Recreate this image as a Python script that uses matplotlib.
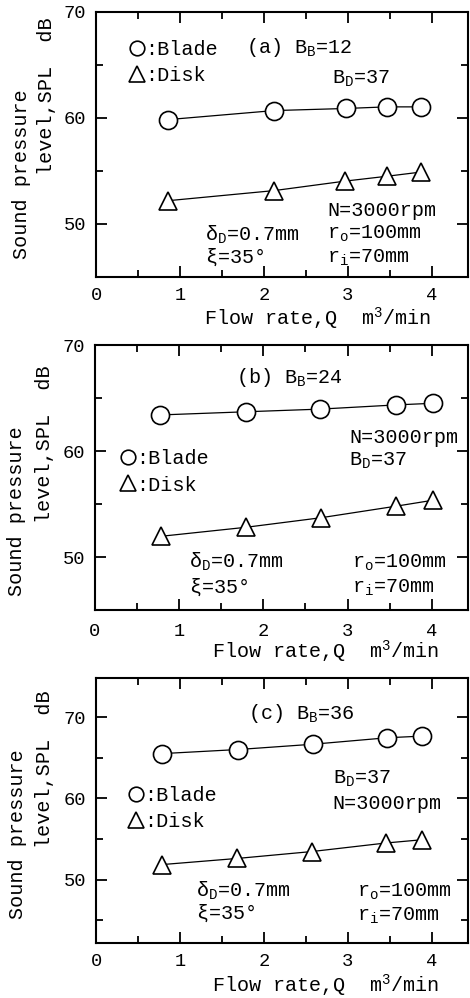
import matplotlib.pyplot as plt
from matplotlib.lines import Line2D
from matplotlib.ticker import MultipleLocator

# flow rate Q (m3/min) and sound pressure level (dB)
q_a_blade = [0.86, 2.12, 2.98, 3.46, 3.87]
spl_a_blade = [59.85, 60.7, 60.9, 61.05, 61.05]
q_a_disk = [0.86, 2.12, 2.97, 3.46, 3.87]
spl_a_disk = [52.2, 53.15, 54.05, 54.5, 54.9]

q_b_blade = [0.77, 1.79, 2.67, 3.58, 4.01]
spl_b_blade = [63.4, 63.7, 63.95, 64.35, 64.5]
q_b_disk = [0.78, 1.79, 2.68, 3.58, 4.01]
spl_b_disk = [51.95, 52.8, 53.7, 54.8, 55.35]

q_c_blade = [0.79, 1.69, 2.58, 3.47, 3.88]
spl_c_blade = [65.5, 66.0, 66.65, 67.45, 67.65]
q_c_disk = [0.79, 1.68, 2.57, 3.45, 3.88]
spl_c_disk = [51.85, 52.6, 53.45, 54.5, 54.9]

x_ticks = [0, 1, 2, 3, 4]
y_ticks = [50, 60, 70]

W, H = 470, 998
FONT = ['Liberation Mono', 'DejaVu Sans Mono', 'DejaVu Sans']
FS = 14.5

plt.rcParams['font.family'] = FONT
plt.rcParams['mathtext.fontset'] = 'custom'
plt.rcParams['mathtext.rm'] = 'Liberation Mono'
plt.rcParams['mathtext.it'] = 'Liberation Mono'
plt.rcParams['mathtext.default'] = 'regular'

fig = plt.figure(figsize=(W / 100, H / 100), dpi=100)


def fx(x):
    return x / W


def fy(y):
    return 1 - y / H


def draw_panel(rect, q_bl, spl_bl, q_dk, spl_dk, ylim, xpad, notes,
               legend_at, ylab1, ylab2, xlab):
    left, top, right, bottom = rect
    ax = fig.add_axes([fx(left), fy(bottom), (right - left) / W, (bottom - top) / H])
    ax.plot(q_bl, spl_bl, color='black', lw=0.9, marker='o', ms=13,
            mfc='white', mec='black', mew=1.2)
    ax.plot(q_dk, spl_dk, color='black', lw=0.9, marker='^', ms=12.5,
            mfc='white', mec='black', mew=1.2)
    ax.set_xlim(0, 4.43)
    ax.set_ylim(*ylim)
    ax.set_xticks(x_ticks)
    ax.set_yticks(y_ticks)
    ax.xaxis.set_minor_locator(MultipleLocator(0.5))
    ax.yaxis.set_minor_locator(MultipleLocator(5))
    ax.tick_params(which='both', direction='in', top=True, right=True,
                   width=1.3, labelsize=13.5)
    ax.tick_params(which='major', length=8)
    ax.tick_params(which='minor', length=5)
    ax.tick_params(axis='x', pad=xpad)
    ax.tick_params(axis='y', pad=7)
    for s in ax.spines.values():
        s.set_linewidth(1.5)

    for txt, x, y in notes:
        fig.text(fx(x), fy(y), txt, fontsize=FS, ha='left', va='baseline')

    handles = [Line2D([], [], ls='none', marker='o', ms=10.5, mfc='white',
                      mec='black', mew=1.2),
               Line2D([], [], ls='none', marker='^', ms=11, mfc='white',
                      mec='black', mew=1.2)]
    lx, ly = legend_at
    ax.legend(handles, [':Blade', ':Disk'], loc='center left',
              bbox_to_anchor=(fx(lx), fy(ly)), bbox_transform=fig.transFigure,
              frameon=False, fontsize=FS, borderpad=0, borderaxespad=0,
              handlelength=0.8, handletextpad=0.0, labelspacing=0.35)

    fig.text(fx(ylab1[0]), fy(ylab1[1]), 'Sound pressure', rotation=90,
             fontsize=FS, ha='center', va='center')
    fig.text(fx(ylab2[0]), fy(ylab2[1]), 'level,SPL  dB', rotation=90,
             fontsize=FS, ha='center', va='center')
    fig.text(fx(xlab[0]), fy(xlab[1]), r'Flow rate,Q  m$^3$/min',
             fontsize=FS, ha='left', va='baseline')
    return ax


draw_panel((96, 12, 468, 277), q_a_blade, spl_a_blade, q_a_disk, spl_a_disk,
           (45, 70), 7.5,
           [(r'(a) B$_B$=12', 246, 53),
            (r'B$_D$=37', 332, 84),
            ('N=3000rpm', 327, 216),
            (r'r$_o$=100mm', 327, 239),
            (r'r$_i$=70mm', 327, 263),
            (r'$\delta_D$=0.7mm', 205, 241),
            (r'$\xi$=35°', 205, 263)],
           (129, 62.5), (22, 174), (47, 96), (204, 325))

draw_panel((95, 345, 468, 610), q_b_blade, spl_b_blade, q_b_disk, spl_b_disk,
           (45, 70), 9,
           [(r'(b) B$_B$=24', 236, 383),
            ('N=3000rpm', 349, 443),
            (r'B$_D$=37', 349, 466),
            (r'$\delta_D$=0.7mm', 189, 568),
            (r'$\xi$=35°', 189, 593),
            (r'r$_o$=100mm', 352, 568),
            (r'r$_i$=70mm', 352, 593)],
           (120, 472), (17, 511), (45, 444), (212, 658))

draw_panel((96, 678, 468, 943), q_c_blade, spl_c_blade, q_c_disk, spl_c_disk,
           (42.2, 74.8), 7.5,
           [(r'(c) B$_B$=36', 248, 719),
            (r'B$_D$=37', 333, 784),
            ('N=3000rpm', 332, 809),
            (r'$\delta_D$=0.7mm', 196, 897),
            (r'$\xi$=35°', 196, 919),
            (r'r$_o$=100mm', 357, 897),
            (r'r$_i$=70mm', 357, 921)],
           (128, 808.5), (18, 834), (45, 769), (212, 992))

fig.savefig('out.png', dpi=100)
